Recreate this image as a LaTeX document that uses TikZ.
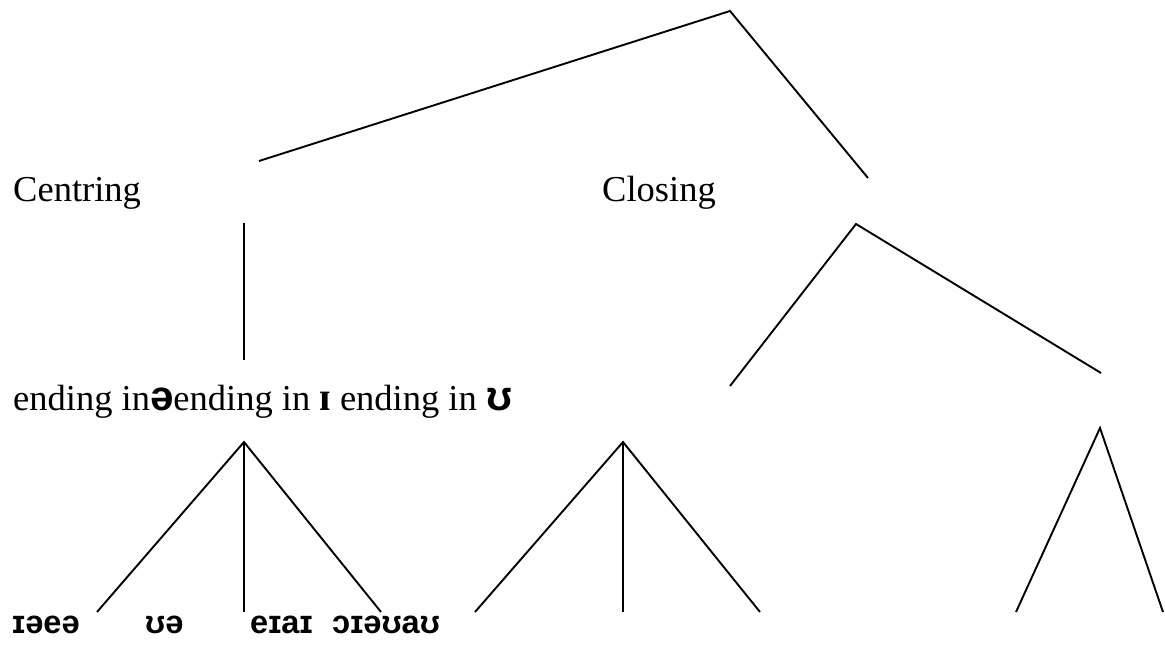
\documentclass[tikz,border=0pt]{standalone}
\usepackage{fontspec}
\setmainfont{Liberation Serif}
\newfontfamily\ipafont{Liberation Sans}
\newcommand{\bigipa}[1]{{\fontsize{42}{44}\selectfont\ipafont\bfseries #1}}
\begin{document}
\begin{tikzpicture}[x=1pt,y=-1pt,
  br/.style={line width=1.9pt},
  lbl/.style={inner sep=0pt,anchor=base west,font=\fontsize{36.5}{40}\selectfont},
  ipa/.style={inner sep=0pt,anchor=base west,font=\fontsize{32.5}{36}\selectfont\ipafont\bfseries}]
\useasboundingbox (0,0) rectangle (1165,648);
% coordinates
\coordinate (top) at (730,11);
\coordinate (tl) at (259,161);
\coordinate (tr) at (868,178);
\coordinate (cv1) at (244,223);
\coordinate (cv2) at (244,360);
\coordinate (ca) at (856,224);
\coordinate (cl) at (730,386);
\coordinate (cr) at (1101,373);
\coordinate (a1) at (244,442);
\coordinate (a1l) at (97,612);
\coordinate (a1m) at (244,612);
\coordinate (a1r) at (381,612);
\coordinate (a2) at (623,442);
\coordinate (a2l) at (475,612);
\coordinate (a2m) at (623,612);
\coordinate (a2r) at (760,612);
\coordinate (a3) at (1100,428);
\coordinate (a3l) at (1016,612);
\coordinate (a3r) at (1163,612);
% lines
\draw[br] (tl) -- (top) -- (tr);
\draw[br] (cv1) -- (cv2);
\draw[br] (cl) -- (ca) -- (cr);
\draw[br] (a1l) -- (a1) -- (a1r);
\draw[br] (a1) -- (a1m);
\draw[br] (a2l) -- (a2) -- (a2r);
\draw[br] (a2) -- (a2m);
\draw[br] (a3l) -- (a3) -- (a3r);
% labels
\node[lbl] (centring) at (13,201) {Centring};
\node[lbl] (closing) at (602,201) {Closing};
\node[lbl] (ending) at (13,410) {ending in\bigipa{ə}ending in {\fontsize{40}{44}\selectfont\bfseries ɪ} ending in \bigipa{ʊ}};
\node[ipa] (g1) at (12,633) {ɪəeə};
\node[ipa] (g2) at (145,633) {ʊə};
\node[ipa] (g3) at (250,633) {eɪaɪ};
\node[ipa] (g4) at (332,633) {ɔɪəʊaʊ};
\end{tikzpicture}
\end{document}
